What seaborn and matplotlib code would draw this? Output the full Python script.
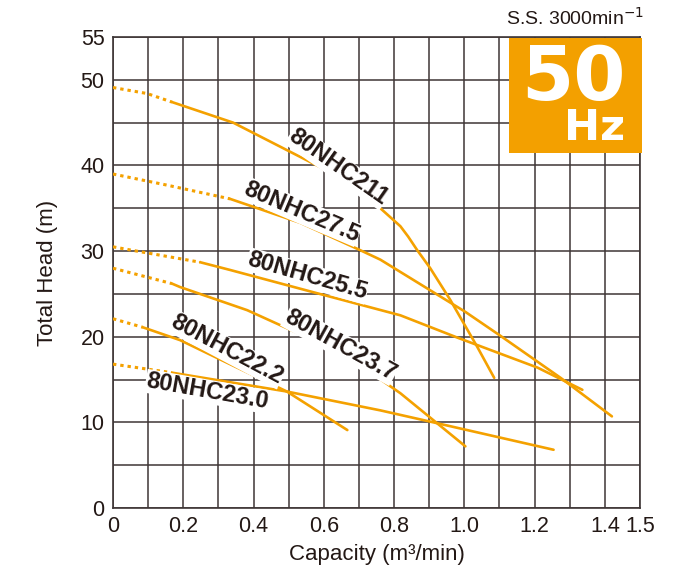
import matplotlib
matplotlib.use("Agg")
import matplotlib.pyplot as plt
import seaborn as sns
import pandas as pd
from matplotlib.patches import Rectangle

# ---- data ----
models = ["80NHC211", "80NHC27.5", "80NHC25.5", "80NHC23.7", "80NHC22.2", "80NHC23.0"]

dot_x = {
    "80NHC211": [0.0, 0.097, 0.168],
    "80NHC27.5": [0.0, 0.154, 0.333],
    "80NHC25.5": [0.0, 0.04, 0.248],
    "80NHC23.7": [0.0, 0.168],
    "80NHC22.2": [0.0, 0.085],
    "80NHC23.0": [0.0, 0.168],
}
dot_y = {
    "80NHC211": [49.1, 48.4, 47.4],
    "80NHC27.5": [39.0, 37.7, 36.1],
    "80NHC25.5": [30.5, 30.2, 28.7],
    "80NHC23.7": [28.0, 26.2],
    "80NHC22.2": [22.1, 21.1],
    "80NHC23.0": [16.8, 15.8],
}
sol_x = {
    "80NHC211": [0.168, 0.342, 0.59, 0.70, 0.761, 0.818, 0.84, 0.866, 0.903, 0.96, 1.037, 1.085],
    "80NHC27.5": [0.333, 0.533, 0.704, 0.761, 1.003, 1.103, 1.274, 1.42],
    "80NHC25.5": [0.248, 0.333, 0.57, 0.818, 0.98, 1.208, 1.336],
    "80NHC23.7": [0.168, 0.191, 0.382, 0.57, 0.723, 0.818, 1.003],
    "80NHC22.2": [0.085, 0.191, 0.495, 0.667],
    "80NHC23.0": [0.168, 0.495, 0.761, 0.912, 1.254],
}
sol_y = {
    "80NHC211": [47.4, 45.0, 39.8, 36.9, 35.0, 32.9, 31.7, 30.1, 28.0, 24.3, 18.8, 15.2],
    "80NHC27.5": [36.1, 33.3, 30.1, 29.0, 22.9, 20.1, 15.2, 10.7],
    "80NHC25.5": [28.7, 27.8, 25.2, 22.5, 19.9, 16.4, 13.8],
    "80NHC23.7": [26.2, 25.8, 23.1, 19.6, 16.1, 13.4, 7.2],
    "80NHC22.2": [21.1, 19.6, 13.6, 9.1],
    "80NHC23.0": [15.8, 13.6, 11.4, 10.0, 6.8],
}
# label anchor (x, y) and rotation
label_x = [0.641, 0.536, 0.553, 0.647, 0.325, 0.268]
label_y = [39.8, 34.6, 27.1, 19.0, 18.5, 13.6]
label_rot = [-35, -23, -16, -29, -28, -10]

x_ticks = [0, 0.2, 0.4, 0.6, 0.8, 1.0, 1.2, 1.4, 1.5]
x_tick_labels = ["0", "0.2", "0.4", "0.6", "0.8", "1.0", "1.2", "1.4", "1.5"]
y_ticks = [0, 10, 20, 30, 40, 50, 55]
y_tick_labels = ["0", "10", "20", "30", "40", "50", "55"]
x_grid = [i / 10 for i in range(16)]
y_grid = [i * 5 for i in range(12)]

# ---- style ----
sns.set_theme(style="white")
plt.rcParams["font.family"] = ["Liberation Sans", "DejaVu Sans"]
ORANGE = "#F4A100"
GRID = "#3e3636"
TXT = "#231815"

fig = plt.figure(figsize=(6.91, 5.73), dpi=100)
ax = fig.add_axes([113 / 691, 65 / 573, 527 / 691, 471 / 573])

# grid drawn as background lines
for gx in x_grid:
    ax.axvline(gx, color=GRID, lw=1.1, zorder=1)
for gy in y_grid:
    ax.axhline(gy, color=GRID, lw=1.1, zorder=1)

for m in models:
    dd = pd.DataFrame({"x": dot_x[m], "y": dot_y[m]})
    ds = pd.DataFrame({"x": sol_x[m], "y": sol_y[m]})
    sns.lineplot(data=dd, x="x", y="y", ax=ax, color=ORANGE, lw=2.2,
                 linestyle=(0, (1.1, 1.3)), sort=False, zorder=3)
    sns.lineplot(data=ds, x="x", y="y", ax=ax, color=ORANGE, lw=1.9,
                 sort=False, zorder=3)

for m, lx, ly, r in zip(models, label_x, label_y, label_rot):
    ax.text(lx, ly, m, rotation=r, rotation_mode="anchor", ha="center", va="center",
            fontsize=17, fontweight="bold", color=TXT, zorder=5,
            bbox=dict(facecolor="white", edgecolor="none", pad=0.3))

ax.set_xlim(0, 1.5)
ax.set_ylim(0, 55)
ax.set_xticks(x_ticks)
ax.set_xticklabels(x_tick_labels)
ax.set_yticks(y_ticks)
ax.set_yticklabels(y_tick_labels)
ax.grid(False)
ax.tick_params(which="both", length=0, labelsize=15.5, colors=TXT, pad=6)
for s in ax.spines.values():
    s.set_color(GRID)
    s.set_linewidth(1.2)

ax.set_xlabel("Capacity (m³/min)", fontsize=16, color=TXT, labelpad=5)
ax.set_ylabel("Total Head (m)", fontsize=16, color=TXT, labelpad=16)

# 50 Hz badge
fig.patches.append(Rectangle((509 / 691, 1 - 153 / 573), 133 / 691, 115 / 573,
                             transform=fig.transFigure, facecolor="#F3A000",
                             edgecolor="none", zorder=10))
fig.text(573 / 691, 1 - 100 / 573, "50", fontsize=54, fontweight="bold",
         family="DejaVu Sans", color="white", ha="center", va="baseline", zorder=11)
fig.text(595 / 691, 1 - 140 / 573, "Hz", fontsize=31, fontweight="bold",
         family="DejaVu Sans", color="white", ha="center", va="baseline", zorder=11)
fig.text(644 / 691, 1 - 18 / 573, "S.S. 3000min$^{-1}$", fontsize=14, color=TXT,
         ha="right", va="center")

fig.savefig("out.png", dpi=100)
